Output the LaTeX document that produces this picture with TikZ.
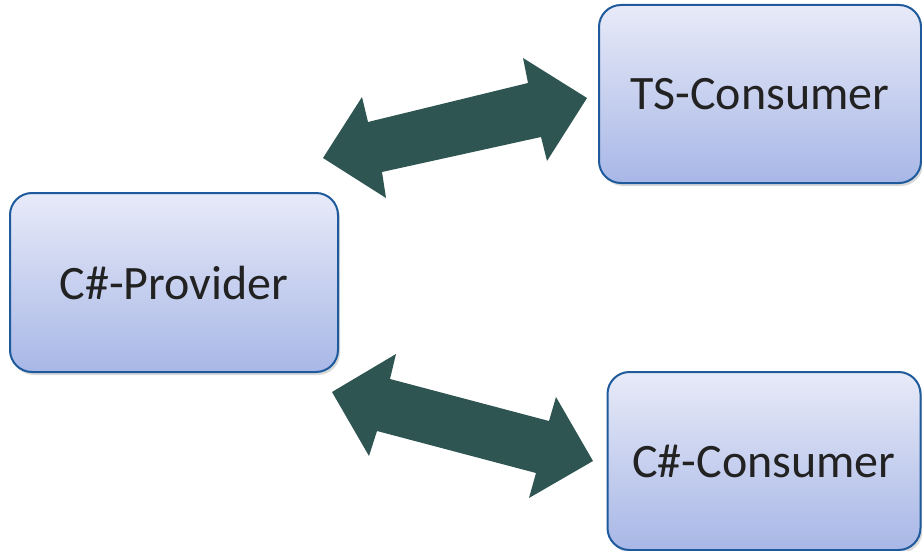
\documentclass[tikz,border=0pt]{standalone}
\usepackage{fontspec}
\setmainfont{Carlito}
\usetikzlibrary{shadows}
\definecolor{arrowc}{HTML}{2E5552}
\definecolor{boxtop}{HTML}{E7EAF8}
\definecolor{boxbot}{HTML}{A8B7E6}
\definecolor{boxline}{HTML}{1E5A9C}
\definecolor{txt}{HTML}{222222}
\tikzset{
  box/.style={draw=boxline, line width=2pt, rounded corners=22pt,
    top color=boxtop, bottom color=boxbot, text=txt,
    font=\fontsize{48}{57}\selectfont, inner sep=0pt,
    drop shadow={shadow xshift=2pt, shadow yshift=-3pt, opacity=0.25, fill=black!60}},
  blockarrow/.style={fill=arrowc, draw=none}
}
\begin{document}
\begin{tikzpicture}[x=1pt,y=-1pt]
\useasboundingbox (0,0) rectangle (922,551);
\node[box, minimum width=328pt, minimum height=179pt] (prov) at (174,282.5) {C\#-Provider};
\node[box, minimum width=322pt, minimum height=178pt] (ts) at (760,94) {TS-Consumer};
\node[box, minimum width=313pt, minimum height=178pt] (cs) at (764,461) {C\#-Consumer};
% upper double block arrow
\fill[blockarrow] (323,158) -- (362,97) -- (368,122) -- (528,83) -- (523,58) -- (587,98)
  -- (547,161) -- (541,137) -- (382,172) -- (386,198) -- cycle;
% lower double block arrow
\fill[blockarrow] (332,392) -- (396,354) -- (390,379) -- (549,421) -- (556,397) -- (593,461)
  -- (529,498) -- (536,473) -- (377,431) -- (369,456) -- cycle;
\end{tikzpicture}
\end{document}
